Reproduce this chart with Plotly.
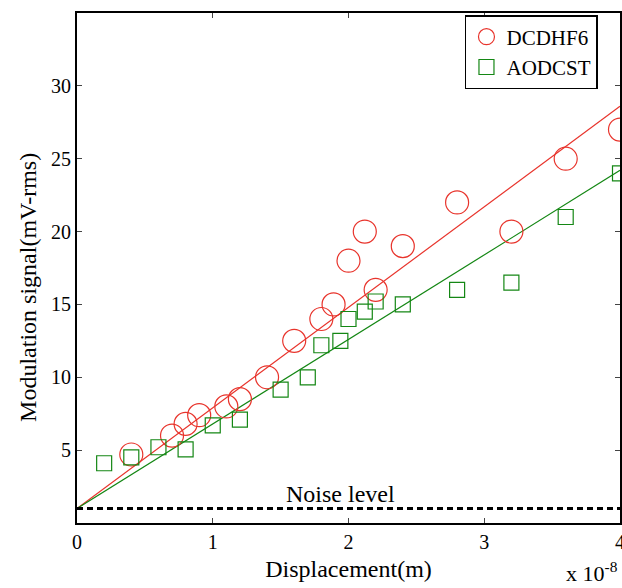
import numpy as np
import plotly.graph_objects as go

# Data (displacement in units of 1e-8 m, signal in mV-rms)
dcdhf6_x = [0.40, 0.70, 0.80, 0.90, 1.10, 1.20, 1.40, 1.60, 1.80, 1.89, 2.00, 2.12, 2.20, 2.40, 2.80, 3.20, 3.60, 4.00]
dcdhf6_y = [4.7, 6.0, 6.8, 7.4, 8.0, 8.5, 10.0, 12.5, 14.0, 15.0, 18.0, 20.0, 16.0, 19.0, 22.0, 20.0, 25.0, 27.0]
aodcst_x = [0.20, 0.40, 0.60, 0.80, 1.00, 1.20, 1.50, 1.70, 1.80, 1.94, 2.00, 2.12, 2.20, 2.40, 2.80, 3.20, 3.60, 4.00]
aodcst_y = [4.1, 4.5, 5.2, 5.05, 6.7, 7.1, 9.15, 10.0, 12.2, 12.5, 14.0, 14.5, 15.2, 15.0, 16.0, 16.5, 21.0, 24.0]

fit_intercept = 1.0
dcdhf6_slope = 6.9
aodcst_slope = 5.8
noise_level = 1.0

x_ticks = [0, 1, 2, 3, 4]
y_ticks = [5, 10, 15, 20, 25, 30]

red = "rgb(232,52,44)"
green = "rgb(20,135,20)"
font = "Liberation Serif"

fit_x = np.array([0.0, 4.0])

fig = go.Figure()
fig.add_trace(go.Scatter(x=fit_x, y=fit_intercept + dcdhf6_slope * fit_x, mode="lines",
                         line=dict(color=red, width=1.2), showlegend=False, hoverinfo="skip"))
fig.add_trace(go.Scatter(x=fit_x, y=fit_intercept + aodcst_slope * fit_x, mode="lines",
                         line=dict(color=green, width=1.2), showlegend=False, hoverinfo="skip"))
fig.add_trace(go.Scatter(x=[0, 4], y=[noise_level, noise_level], mode="lines",
                         line=dict(color="black", width=3, dash="6px,4px"), showlegend=False, hoverinfo="skip"))
fig.add_trace(go.Scatter(x=dcdhf6_x, y=dcdhf6_y, mode="markers", name="DCDHF6",
                         marker=dict(symbol="circle-open", size=23, color=red, line=dict(width=1.2, color=red))))
fig.add_trace(go.Scatter(x=aodcst_x, y=aodcst_y, mode="markers", name="AODCST",
                         marker=dict(symbol="square-open", size=15, color=green, line=dict(width=1.2, color=green))))

fig.add_annotation(x=1.94, y=noise_level, xref="x", yref="y", text="Noise level", showarrow=False,
                   yanchor="bottom", yshift=-1, font=dict(family=font, size=24, color="black"))
fig.add_annotation(x=1.0, y=-0.127, xref="paper", yref="paper", text="x 10<sup>-8</sup>", showarrow=False,
                   xanchor="right", yanchor="bottom", font=dict(family=font, size=22, color="black"))
fig.add_annotation(x=-0.0902, y=0.461, xref="paper", yref="paper", text="Modulation signal(mV-rms)",
                   showarrow=False, textangle=-90, xanchor="center", yanchor="middle",
                   font=dict(family=font, size=24, color="black"))

fig.update_layout(
    width=622, height=588,
    margin=dict(l=77, r=2, t=13, b=65, autoexpand=False),
    plot_bgcolor="white", paper_bgcolor="white",
    font=dict(family=font, size=20, color="black"),
    legend=dict(x=0.7145, y=0.996, xanchor="left", yanchor="top",
                bordercolor="black", borderwidth=1.5, bgcolor="white",
                font=dict(family=font, size=21), itemsizing="trace"),
    xaxis=dict(range=[0, 4], tickvals=x_ticks, ticktext=[str(v) for v in x_ticks],
               ticks="inside", ticklen=5, tickcolor="#444", showgrid=False, zeroline=False,
               showline=True, linecolor="black", linewidth=2, mirror="ticks",
               ticklabeloverflow="allow", automargin=False,
               title=dict(text="Displacement(m)", font=dict(family=font, size=24), standoff=8),
               tickfont=dict(family=font, size=20)),
    yaxis=dict(range=[0, 35], tickvals=y_ticks, ticktext=[str(v) for v in y_ticks],
               ticks="inside", ticklen=5, tickcolor="#444", showgrid=False, zeroline=False,
               showline=True, linecolor="black", linewidth=2, mirror="ticks", automargin=False,
               tickfont=dict(family=font, size=20)),
)

fig.write_html("out.html")
